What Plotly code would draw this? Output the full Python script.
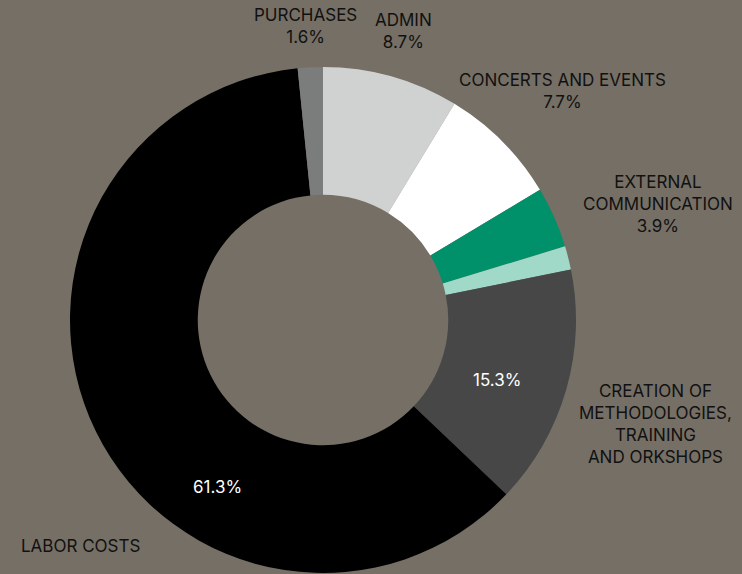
import plotly.graph_objects as go

categories = ["ADMIN", "CONCERTS AND EVENTS", "EXTERNAL COMMUNICATION", "OTHER",
              "CREATION OF METHODOLOGIES, TRAINING AND ORKSHOPS", "LABOR COSTS", "PURCHASES"]
values = [8.7, 7.7, 3.9, 1.5, 15.3, 61.3, 1.6]
colors = ["#d0d2d1", "#ffffff", "#00906a", "#a1d9c9", "#474747", "#000000", "#7a7d7b"]

label_texts = ["PURCHASES<br>1.6%", "ADMIN<br>8.7%", "CONCERTS AND EVENTS<br>7.7%",
               "EXTERNAL<br>COMMUNICATION<br>3.9%",
               "CREATION OF<br>METHODOLOGIES,<br>TRAINING<br>AND ORKSHOPS",
               "LABOR COSTS"]
label_px = [(305, 26), (403, 31), (562, 91), (658, 204), (655, 424), (80, 546)]
inside_texts = ["15.3%", "61.3%"]
inside_px = [(497, 380), (217, 487)]

W, H = 742, 574
BG = "#756f65"

fig = go.Figure(go.Pie(
    labels=categories, values=values, sort=False, direction="clockwise", rotation=0,
    hole=0.495, marker=dict(colors=colors, line=dict(width=0)),
    textinfo="none", hoverinfo="label+percent",
    domain=dict(x=[70 / W, 576 / W], y=[1 / H, 507 / H]),
))

ann = []
for t, (x, y) in zip(label_texts, label_px):
    ann.append(dict(text=t, x=x / W, y=1 - y / H, xref="paper", yref="paper",
                    showarrow=False, xanchor="center", yanchor="middle", align="center",
                    font=dict(family="Inter", size=17, color="#111111")))
for t, (x, y) in zip(inside_texts, inside_px):
    ann.append(dict(text=t, x=x / W, y=1 - y / H, xref="paper", yref="paper",
                    showarrow=False, xanchor="center", yanchor="middle",
                    font=dict(family="Inter", size=17, color="#ffffff")))

fig.update_layout(width=W, height=H, margin=dict(l=0, r=0, t=0, b=0),
                  paper_bgcolor=BG, plot_bgcolor=BG, showlegend=False, annotations=ann)
fig.write_html("out.html", config={"displayModeBar": False},
               post_script="document.body.style.margin='0';document.body.style.overflow='hidden';"
                           "document.body.style.background='%s';" % BG)
